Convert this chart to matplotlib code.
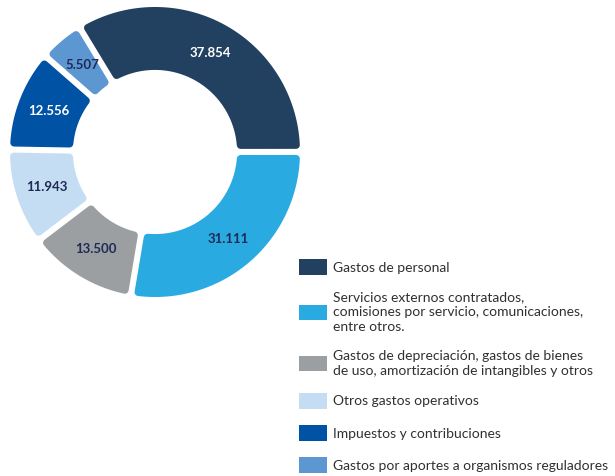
import numpy as np
import matplotlib
matplotlib.use("Agg")
import matplotlib.pyplot as plt
from matplotlib.patches import Patch, Polygon

# data
categories = [
    "Gastos de personal",
    "Servicios externos contratados,\ncomisiones por servicio, comunicaciones,\nentre otros.",
    "Gastos de depreciación, gastos de bienes\nde uso, amortización de intangibles y otros",
    "Otros gastos operativos",
    "Impuestos y contribuciones",
    "Gastos por aportes a organismos reguladores",
]
values = [37854, 31111, 13500, 11943, 12556, 5507]
value_labels = ["37.854", "31.111", "13.500", "11.943", "12.556", "5.507"]

NAVY = "#1f2b56"
colors = ["#22405f", "#29abe2", "#9c9fa1", "#c5ddf2", "#0052a5", "#5c97d1"]
label_colors = ["white", NAVY, NAVY, NAVY, "white", NAVY]

W, H, DPI = 6.15, 4.76, 100
R_OUT, R_IN = 1.0, 0.566
LIM = 1.02
HALF_GAP = 0.021   # data units
CORNER = 0.026     # corner rounding radius, data units

fig = plt.figure(figsize=(W, H), dpi=DPI)
ax_px = 2 * LIM * 145
ax = fig.add_axes([(155 - ax_px / 2) / 615, (476 - 152 - ax_px / 2) / 476,
                   ax_px / 615, ax_px / 476])

wedges, _ = ax.pie(values, colors=colors, startangle=121.2, counterclock=False,
                   radius=R_OUT, wedgeprops=dict(width=R_OUT - R_IN))

px_per_unit = ax_px / (2 * LIM)
lw_pt = 2 * CORNER * px_per_unit * 72 / DPI


def rounded_segment(t1, t2, color):
    # ring segment with parallel gaps and rounded corners
    off = HALF_GAP + CORNER
    ro, ri = R_OUT - CORNER, R_IN + CORNER
    a1, a2 = np.radians(t1), np.radians(t2)
    outer = np.linspace(a1 + np.arcsin(off / ro), a2 - np.arcsin(off / ro), 90)
    inner = np.linspace(a2 - np.arcsin(off / ri), a1 + np.arcsin(off / ri), 90)
    xs = np.concatenate([ro * np.cos(outer), ri * np.cos(inner)])
    ys = np.concatenate([ro * np.sin(outer), ri * np.sin(inner)])
    return Polygon(np.column_stack([xs, ys]), closed=True, facecolor=color,
                   edgecolor=color, linewidth=lw_pt, joinstyle="round")


for w, c, lab, lc in zip(wedges, colors, value_labels, label_colors):
    w.set_visible(False)
    ax.add_patch(rounded_segment(w.theta1, w.theta2, c))
    mid = np.radians((w.theta1 + w.theta2) / 2)
    rm = (R_OUT + R_IN) / 2
    ax.text(rm * np.cos(mid), rm * np.sin(mid), lab, ha="center", va="center",
            color=lc, fontsize=9.5, fontweight="bold", family="Lato")

ax.set_xlim(-LIM, LIM)
ax.set_ylim(-LIM, LIM)
ax.set_aspect("equal")
ax.axis("off")

handles = [Patch(facecolor=c, edgecolor="none") for c in colors]
leg = fig.legend(handles, categories, loc="upper left",
                 bbox_to_anchor=(299 / 615, 1 - 259 / 476), frameon=False,
                 borderpad=0, borderaxespad=0, handlelength=2.0, handleheight=1.37,
                 handletextpad=0.42, labelspacing=1.18,
                 prop=dict(family="Lato", size=10), labelcolor="#303030")
for t in leg.get_texts():
    t.set_linespacing(1.3)

fig.savefig("out.png", dpi=DPI)
